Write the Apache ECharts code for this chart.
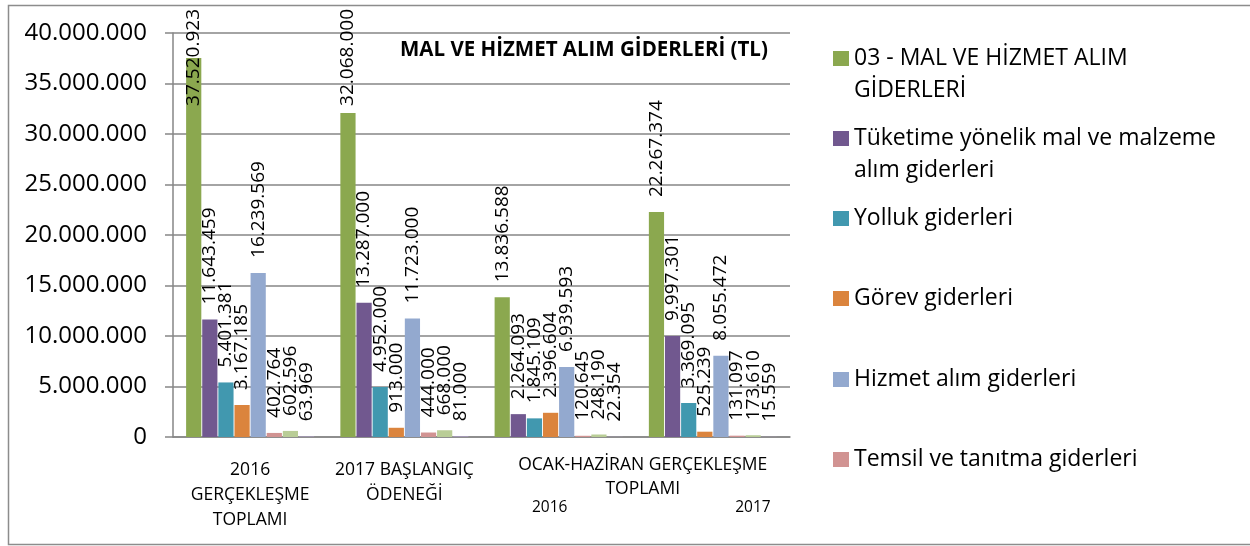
<!DOCTYPE html>
<html>
<head>
<meta charset="utf-8">
<script src="https://cdn.jsdelivr.net/npm/echarts@6/dist/echarts.min.js"></script>
<style>
  html, body { margin: 0; padding: 0; background: #fff; }
  #chart { width: 1250px; height: 546px; }
</style>
</head>
<body>
<div id="chart"></div>
<script>
  // kategoriler (alt seviye) ve üst seviye grup etiketi
  const categories = ['2016\nGERÇEKLEŞME\nTOPLAMI', '2017 BAŞLANGIÇ\nÖDENEĞİ', '2016', '2017'];
  const groupLabels = ['', 'OCAK-HAZİRAN GERÇEKLEŞME\nTOPLAMI'];
  const yTicks = [0, 5000000, 10000000, 15000000, 20000000, 25000000, 30000000, 35000000, 40000000];

  // seriler
  const seriesNames = [
    '03 - MAL VE HİZMET ALIM GİDERLERİ',
    'Tüketime yönelik mal ve malzeme alım giderleri',
    'Yolluk giderleri',
    'Görev giderleri',
    'Hizmet alım giderleri',
    'Temsil ve tanıtma giderleri',
    'Menkul mal, gayrimaddi hak alım, bakım ve onarım giderleri',
    'Gayrimenkul mal bakım ve onarım giderleri'
  ];
  const malHizmet = [37520923, 32068000, 13836588, 22267374];
  const tuketim = [11643459, 13287000, 2264093, 9997301];
  const yolluk = [5401381, 4952000, 1845109, 3369095];
  const gorev = [3167185, 913000, 2396604, 525239];
  const hizmet = [16239569, 11723000, 6939593, 8055472];
  const temsil = [402764, 444000, 120645, 131097];
  const menkul = [602596, 668000, 248190, 173610];
  const gayrimenkul = [63969, 81000, 22354, 15559];
  const seriesValues = [malHizmet, tuketim, yolluk, gorev, hizmet, temsil, menkul, gayrimenkul];
  const colors = ['#8BA84F', '#71588F', '#4198AF', '#DB843D', '#93A9CF', '#D19392', '#B9CD96', '#A99BBD'];

  const legendCount = 6; // resimde sadece ilk 6 lejant görünüyor

  function fmt(v) {
    return String(v).replace(/\B(?=(\d{3})+(?!\d))/g, '.');
  }

  let myChart = echarts.init(document.getElementById('chart'));

  const font = 'Open Sans';
  const axisGray = '#868686';

  // her lejant ayrı bir bileşen, eşit aralıklı
  const legendCenters = [57, 137, 218, 298, 379, 459];
  let legends = [];
  for (let i = 0; i < legendCount; i++) {
    const twoLine = i < 2;
    legends.push({
      data: [seriesNames[i]],
      orient: 'vertical',
      left: 833,
      top: legendCenters[i] - (twoLine ? 46.5 : 15.5),
      padding: 0,
      itemWidth: 16,
      itemHeight: 15,
      itemGap: 0,
      selectedMode: false,
      icon: 'rect',
      // iki satırlı öğelerde ilk satır işaretle hizalansın diye başa boş satır
      formatter: name => (twoLine ? '\n' : '') + name,
      textStyle: {
        fontFamily: font,
        fontSize: 23,
        color: '#000',
        lineHeight: 32,
        width: 390,
        overflow: 'break'
      }
    });
  }

  let series = seriesNames.map((name, i) => ({
    name: name,
    type: 'bar',
    data: seriesValues[i],
    barGap: '6%',
    barCategoryGap: '17%',
    itemStyle: { color: colors[i] },
    label: {
      show: true,
      position: 'top',
      rotate: 90,
      align: 'left',
      verticalAlign: 'middle',
      distance: 15,
      fontFamily: font,
      fontSize: 19,
      color: '#000',
      formatter: p => fmt(p.value)
    },
    labelLayout: function (params) {
      // grafik alanının üstüne taşan etiketi aşağı kaydır (ofset döndürülmüş eksende)
      if (params.labelRect.y < 9) {
        return { dx: params.labelRect.y - 9 };
      }
    }
  }));

  let option = {
    animation: false,
    color: colors,
    title: {
      text: 'MAL VE HİZMET ALIM GİDERLERİ (TL)',
      left: 400,
      top: 40,
      padding: 0,
      textStyle: { fontFamily: font, fontSize: 20.5, fontWeight: 'bold', color: '#000' }
    },
    legend: legends,
    grid: { left: 173, right: 460, top: 33, bottom: 109, outerBoundsMode: 'none' },
    xAxis: [{
      type: 'category',
      data: categories,
      axisLine: { lineStyle: { color: axisGray, width: 1.5 } },
      axisTick: { length: 9, lineStyle: { color: axisGray, width: 1.5 } },
      axisLabel: {
        interval: 0,
        margin: 21,
        fontFamily: font,
        fontSize: 17.5,
        lineHeight: 25,
        color: '#000',
        formatter: function (v, idx) {
          if (idx === 2) return '{s2016|' + v + '}';
          if (idx === 3) return '{s2017|' + v + '}';
          return v;
        },
        rich: {
          // alt seviye yıl etiketleri grup başlığının altında
          s2016: { fontFamily: font, fontSize: 15.5, color: '#000', lineHeight: 100, padding: [0, 18, 0, 0] },
          s2017: { fontFamily: font, fontSize: 15.5, color: '#000', lineHeight: 100, padding: [0, 0, 0, 80] }
        }
      }
    }, {
      type: 'category',
      position: 'bottom',
      data: groupLabels,
      axisLine: { show: false },
      axisTick: { show: false },
      axisLabel: {
        interval: 0,
        margin: 16,
        fontFamily: font,
        fontSize: 17.5,
        lineHeight: 24,
        color: '#000',
        padding: [0, 0, 0, 14]
      }
    }],
    yAxis: {
      type: 'value',
      min: 0,
      max: 40000000,
      interval: 5000000,
      axisLine: { show: true, lineStyle: { color: axisGray, width: 1.5 } },
      axisTick: { show: true, length: 8, lineStyle: { color: axisGray, width: 1.5 } },
      splitLine: { lineStyle: { color: axisGray, width: 1.5 } },
      axisLabel: {
        margin: 26,
        fontFamily: font,
        fontSize: 24,
        color: '#000',
        formatter: v => yTicks.indexOf(v) >= 0 ? fmt(v) : ''
      }
    },
    graphic: [{
      type: 'rect',
      silent: true,
      shape: { x: 8.5, y: 5.5, width: 1300, height: 539 },
      style: { fill: null, stroke: '#8C8C8C', lineWidth: 1.5 }
    }],
    series: series
  };

  myChart.setOption(option, true);
  window.addEventListener('resize', function () {
    myChart.resize();
  });
</script>
</body>
</html>
